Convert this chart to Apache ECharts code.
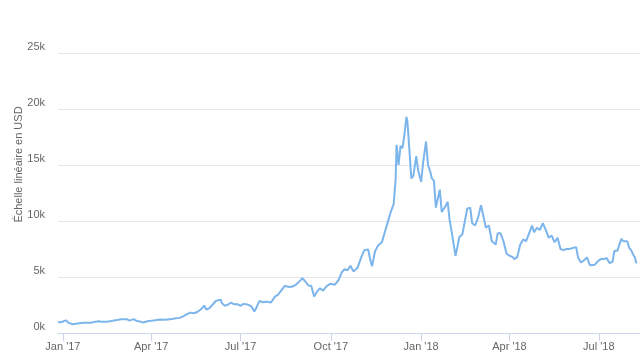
<!DOCTYPE html>
<html>
<head>
<meta charset="utf-8">
<script src="https://cdn.jsdelivr.net/npm/echarts@6/dist/echarts.min.js"></script>
<style>
html,body{margin:0;padding:0;background:#fff;}
#chart{width:640px;height:358px;}
</style>
</head>
<body>
<div id="chart"></div>
<script>
// ---- data ----
var dates = [
'2016-12-27','2016-12-30','2017-01-01','2017-01-04','2017-01-05','2017-01-07','2017-01-11','2017-01-14','2017-01-18','2017-01-22',
'2017-01-26','2017-01-30','2017-02-03','2017-02-07','2017-02-10','2017-02-14','2017-02-18','2017-02-22','2017-02-25','2017-03-01',
'2017-03-03','2017-03-07','2017-03-10','2017-03-14','2017-03-17','2017-03-20','2017-03-24','2017-03-28','2017-04-01','2017-04-05',
'2017-04-10','2017-04-14','2017-04-18','2017-04-22','2017-04-26','2017-04-30','2017-05-04','2017-05-08','2017-05-11','2017-05-14',
'2017-05-18','2017-05-20','2017-05-22','2017-05-25','2017-05-27','2017-05-30','2017-06-02','2017-06-06','2017-06-08','2017-06-11',
'2017-06-12','2017-06-15','2017-06-18','2017-06-21','2017-06-25','2017-06-28','2017-07-01','2017-07-04','2017-07-08','2017-07-12',
'2017-07-15','2017-07-17','2017-07-20','2017-07-24','2017-07-28','2017-08-01','2017-08-05','2017-08-08','2017-08-12','2017-08-15',
'2017-08-17','2017-08-20','2017-08-23','2017-08-27','2017-08-31','2017-09-02','2017-09-05','2017-09-08','2017-09-11','2017-09-14',
'2017-09-17','2017-09-20','2017-09-23','2017-09-27','2017-10-01','2017-10-05','2017-10-09','2017-10-12','2017-10-15','2017-10-18',
'2017-10-21','2017-10-24','2017-10-28','2017-11-01','2017-11-04','2017-11-08','2017-11-10','2017-11-12','2017-11-15','2017-11-18',
'2017-11-22','2017-11-26','2017-11-28','2017-11-29','2017-12-01','2017-12-04','2017-12-06','2017-12-07','2017-12-09','2017-12-11',
'2017-12-13','2017-12-15','2017-12-17','2017-12-18','2017-12-20','2017-12-22','2017-12-24','2017-12-27','2017-12-29','2018-01-01',
'2018-01-03','2018-01-06','2018-01-08','2018-01-10','2018-01-12','2018-01-14','2018-01-16','2018-01-18','2018-01-20','2018-01-22',
'2018-01-25','2018-01-28','2018-01-30','2018-02-01','2018-02-03','2018-02-05','2018-02-07','2018-02-09','2018-02-12','2018-02-15',
'2018-02-17','2018-02-20','2018-02-22','2018-02-25','2018-02-28','2018-03-03','2018-03-05','2018-03-08','2018-03-11','2018-03-14',
'2018-03-16','2018-03-18','2018-03-20','2018-03-23','2018-03-26','2018-03-29','2018-04-01','2018-04-04','2018-04-06','2018-04-09',
'2018-04-12','2018-04-15','2018-04-18','2018-04-21','2018-04-24','2018-04-26','2018-04-29','2018-05-02','2018-05-05','2018-05-08',
'2018-05-11','2018-05-14','2018-05-17','2018-05-20','2018-05-23','2018-05-26','2018-05-29','2018-06-01','2018-06-05','2018-06-08',
'2018-06-10','2018-06-13','2018-06-16','2018-06-19','2018-06-22','2018-06-24','2018-06-27','2018-06-30','2018-07-03','2018-07-06',
'2018-07-09','2018-07-12','2018-07-15','2018-07-17','2018-07-20','2018-07-22','2018-07-24','2018-07-26','2018-07-28','2018-07-30',
'2018-08-01','2018-08-03','2018-08-05','2018-08-07','2018-08-08','2018-08-09'
];
var prices = [
975,960,998,1130,1005,900,780,820,880,920,
915,920,1015,1050,995,1010,1055,1125,1150,1220,
1285,1235,1110,1240,1080,1040,935,1045,1085,1130,
1210,1180,1210,1240,1310,1350,1510,1700,1820,1760,
1880,2050,2150,2450,2100,2200,2480,2880,2720,2960,
2650,2440,2520,2700,2560,2570,2430,2600,2550,2370,
1930,2230,2850,2750,2800,2720,3250,3400,3850,4200,
4300,4100,4150,4350,4700,4900,4600,4250,4220,3250,
3700,4000,3780,4200,4400,4300,4750,5400,5700,5600,
6000,5500,5800,6750,7400,7450,6600,5950,7300,7800,
8100,9300,9900,9850,10800,11500,13700,16800,15000,16700,
16500,17700,19300,18900,16400,13800,14000,15800,14500,13500,
15200,17100,15000,14500,13800,13600,11200,11300,12800,10800,
11200,11700,10100,9100,9200,6900,7700,8600,8800,10200,
11100,11200,9800,9600,10300,11400,11500,9400,9600,8200,
8300,7900,8900,8900,8150,7100,6900,6800,6600,6800,
7900,8350,8200,8900,9600,9000,9400,9200,9800,9200,
8500,8700,8100,8500,7500,7400,7500,7500,7600,7650,
6700,6300,6500,6750,6050,6100,6100,6400,6600,6600,
6700,6250,6350,7350,7350,7400,8400,8200,8200,8200,
7600,7400,7000,6700,6300,6250
];
var xMinDate = '2016-12-27';
var xMaxDate = '2018-08-12';
var tickDates = ['2017-01-01','2017-04-01','2017-07-01','2017-10-01','2018-01-01','2018-04-01','2018-07-01'];
var tickLabels = ["Jan '17","Apr '17","Jul '17","Oct '17","Jan '18","Apr '18","Jul '18"];
var yTicks = [0, 5000, 10000, 15000, 20000, 25000];
var yTitle = 'Échelle linéaire en USD';

function ts(s){var p=s.split('-');return Date.UTC(+p[0], +p[1]-1, +p[2]);}
var seriesData = dates.map(function(d,i){return [ts(d), prices[i]];});
var tickTs = tickDates.map(ts);

var chart = echarts.init(document.getElementById('chart'), null, {renderer:'canvas'});
var font = "'Liberation Sans', Arial, Helvetica, sans-serif";
chart.setOption({
  animation:false,
  backgroundColor:'#ffffff',
  grid:{left:58, right:0, top:53, bottom:25, containLabel:false},
  xAxis:{
    type:'value',
    min: ts(xMinDate), max: ts(xMaxDate),
    axisLine:{show:true, onZero:false, lineStyle:{color:'#ccd6eb', width:1}},
    axisTick:{show:true, length:8, lineStyle:{color:'#ccd6eb'}, customValues: tickTs},
    axisLabel:{
      customValues: tickTs,
      showMinLabel:true, showMaxLabel:true,
      color:'#666666', fontSize:11, fontFamily:font, margin:8,
      formatter:function(v){var i=tickTs.indexOf(v); return i>=0?tickLabels[i]:'';}
    },
    splitLine:{show:false}
  },
  yAxis:{
    type:'value', min:yTicks[0], max:yTicks[yTicks.length-1], interval:yTicks[1]-yTicks[0],
    axisLine:{show:false}, axisTick:{show:false},
    axisLabel:{color:'#666666', fontSize:11, fontFamily:font, margin:13,
      verticalAlign:'bottom', lineHeight:12,
      formatter:function(v){return (v/1000)+'k';}},
    splitLine:{lineStyle:{color:'#e6e6e6', width:1}}
  },
  graphic:[{
    type:'text', x:19, y:164.5, rotation:Math.PI/2,
    style:{text:yTitle, fill:'#666666', font:'11px '+font, textAlign:'center', textVerticalAlign:'middle'}
  }],
  series:[{
    type:'line', data:seriesData, showSymbol:false, symbol:'none',
    lineStyle:{color:'#7cb5ec', width:2}, itemStyle:{color:'#7cb5ec'}
  }]
});
</script>
</body>
</html>
